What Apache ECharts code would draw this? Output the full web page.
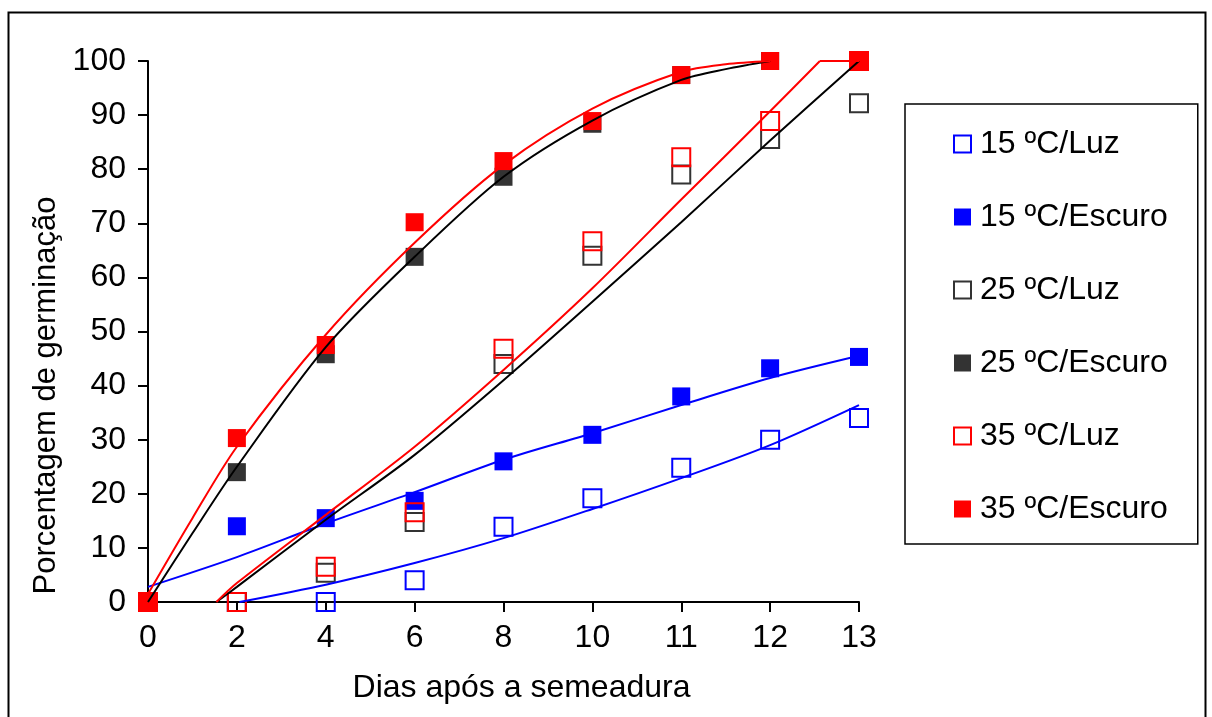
<!DOCTYPE html>
<html>
<head>
<meta charset="utf-8">
<script src="https://cdn.jsdelivr.net/npm/echarts@6/dist/echarts.min.js"></script>
<style>
  html, body { margin: 0; padding: 0; background: #fff; }
  #chart { width: 1212px; height: 717px; }
</style>
</head>
<body>
<div id="chart"></div>
<script>
// Days after sowing, one slot per sampling date (evenly spaced)
const dayLabels = ['0', '2', '4', '6', '8', '10', '11', '12', '13'];

// Germination (%) per sampling date
const luz15    = [0, 0, 0, 4, 13.9, 19.2, 24.8, 30, 34];
const escuro15 = [0, 14, 15.5, 18.7, 26, 30.9, 38, 43.2, 45.3];
const luz25    = [0, 0, 5.4, 14.8, 44, 64, 79, 85.6, 92.2];
const escuro25 = [0, 24, 45.8, 63.8, 78.6, 88.4, 97.4, 100, 100];
const luz35    = [0, 0, 6.5, 16.6, 46.8, 66.7, 82.2, 88.9, 100];
const escuro35 = [0, 30.3, 47.5, 70.2, 81.5, 88.9, 97.4, 100, 100];

// Trend curves: [slot position, %]
const trendLuz15    = [[1.03, 0], [2, 3.2], [3, 7.2], [4, 11.8], [5, 17.2], [6, 22.9], [7, 29], [8, 36.4]];
const trendEscuro15 = [[0, 2.8], [1, 8.3], [2, 14.5], [3, 20.3], [4, 26.3], [5, 31.2], [6, 36.4], [7, 41.4], [8, 45.5]];
const trendLuz25    = [[0.77, 0], [1, 2.8], [2, 15.2], [3, 27.2], [4, 41], [5, 55.5], [6, 70.2], [7, 85.3], [8, 100]];
const trendEscuro25 = [[0, 0], [0.5, 12.7], [1, 25], [2, 47.1], [3, 63.8], [4, 78.6], [5, 89], [6, 96.5], [6.5, 98.5], [7, 100]];
const trendLuz35    = [[0.77, 0], [1, 3.5], [2, 16.1], [3, 28.7], [4, 42.9], [5, 58], [6, 74.4], [7, 90.7], [7.56, 100]];
const trendLuz35Cap = [[7.56, 100], [8, 100]];   // curve held at the 100 % ceiling
const trendEscuro35 = [[0, 1.5], [0.5, 15.5], [1, 28.7], [2, 49.4], [3, 66.4], [4, 80.8], [5, 91.2], [6, 98], [6.5, 99.4], [7, 100]];

const FONT = 'Liberation Sans, Arial, sans-serif';
const BLUE = '#0000ff', DARK = '#333333', RED = '#ff0000';

const toPairs = arr => arr.map((v, i) => [i, v]);

function markers(name, values, color, open) {
  return {
    name: name,
    type: 'scatter',
    data: toPairs(values),
    symbol: 'rect',
    symbolSize: 18,
    z: 2,
    itemStyle: open
      ? { color: 'rgba(255,255,255,0)', borderColor: color, borderWidth: 2, opacity: 1 }
      : { color: color, borderWidth: 0, opacity: 1 },
    emphasis: { disabled: true }
  };
}

function trend(name, pts, color, smooth) {
  return {
    name: name,
    type: 'line',
    data: pts,
    smooth: smooth === undefined ? 0.3 : smooth,
    showSymbol: false,
    symbol: 'none',
    z: 4,
    lineStyle: { color: color, width: 2 },
    emphasis: { disabled: true },
    silent: true
  };
}

const chart = echarts.init(document.getElementById('chart'), null, { renderer: 'canvas' });

chart.setOption({
  animation: false,
  backgroundColor: '#fff',
  grid: { left: 148, right: 353, top: 61, bottom: 115, containLabel: false },
  xAxis: {
    type: 'value',
    min: 0, max: 8, interval: 1,
    name: 'Dias após a semeadura',
    nameLocation: 'middle',
    nameGap: 70,
    nameTextStyle: { fontSize: 32, fontFamily: FONT, color: '#000', padding: [0, 0, 0, 36] },
    axisLine: { show: true, onZero: false, lineStyle: { color: '#000', width: 2 } },
    axisTick: { show: true, inside: false, length: 10, lineStyle: { color: '#000', width: 2 } },
    axisLabel: {
      margin: 20, fontSize: 32, fontFamily: FONT, color: '#000',
      formatter: v => dayLabels[v] !== undefined ? dayLabels[v] : ''
    },
    splitLine: { show: false }
  },
  yAxis: {
    type: 'value',
    min: 0, max: 100, interval: 10,
    name: 'Porcentagem de germinação',
    nameLocation: 'middle',
    nameRotate: 90,
    nameGap: 82,
    nameTextStyle: { fontSize: 31, fontFamily: FONT, color: '#000', padding: [0, 128, 0, 0] },
    axisLine: { show: true, lineStyle: { color: '#000', width: 2 } },
    axisTick: { show: true, inside: false, length: 10, lineStyle: { color: '#000', width: 2 } },
    axisLabel: { margin: 22, fontSize: 32, fontFamily: FONT, color: '#000' },
    splitLine: { show: false }
  },
  legend: {
    orient: 'vertical',
    left: 905,
    top: 104,
    padding: [24, 30, 19, 48],
    borderColor: '#000',
    borderWidth: 1.5,
    borderRadius: 0,
    itemWidth: 17,
    itemHeight: 17,
    itemGap: 41,
    selectedMode: false,
    textStyle: { fontSize: 32, fontFamily: FONT, color: '#000', padding: [0, 0, 0, 4] },
    data: ['15 ºC/Luz', '15 ºC/Escuro', '25 ºC/Luz', '25 ºC/Escuro', '35 ºC/Luz', '35 ºC/Escuro']
  },
  graphic: [{
    type: 'rect',
    silent: true,
    shape: { x: 8.5, y: 12.5, width: 1197, height: 730 },
    style: { fill: 'none', stroke: '#000', lineWidth: 2 }
  }],
  series: [
    markers('15 ºC/Luz', luz15, BLUE, true),
    markers('15 ºC/Escuro', escuro15, BLUE, false),
    markers('25 ºC/Luz', luz25, DARK, true),
    markers('25 ºC/Escuro', escuro25, DARK, false),
    markers('35 ºC/Luz', luz35, RED, true),
    markers('35 ºC/Escuro', escuro35, RED, false),
    trend('tendência 15 ºC/Luz', trendLuz15, BLUE),
    trend('tendência 15 ºC/Escuro', trendEscuro15, BLUE),
    trend('tendência 25 ºC/Luz', trendLuz25, '#000'),
    trend('tendência 25 ºC/Escuro', trendEscuro25, '#000'),
    trend('tendência 35 ºC/Luz', trendLuz35, RED),
    trend('tendência 35 ºC/Luz (teto)', trendLuz35Cap, RED, false),
    trend('tendência 35 ºC/Escuro', trendEscuro35, RED)
  ]
});
</script>
</body>
</html>
